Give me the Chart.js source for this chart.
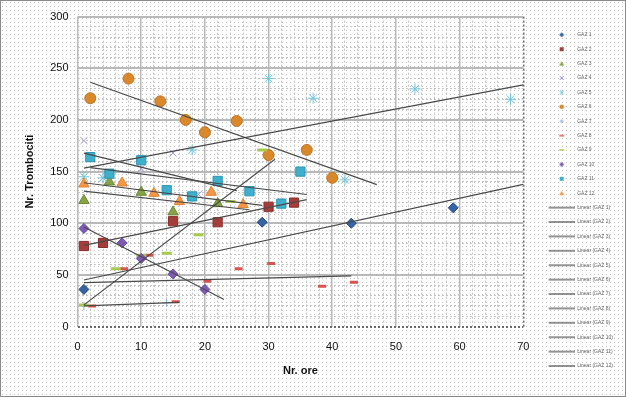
<!DOCTYPE html>
<html>
<head>
<meta charset="utf-8">
<script src="https://cdn.jsdelivr.net/npm/chart.js@4.4.0/dist/chart.umd.min.js"></script>
<style>
  html, body { margin: 0; padding: 0; background: #fff; }
  #wrap {
    width: 626px; height: 397px; box-sizing: border-box;
    border: 1px solid #8a8a8a;
    background-color: #fff;
  }
  canvas { display: block; }
</style>
</head>
<body>
<div id="wrap"><canvas id="chart" width="624" height="395"></canvas></div>
<script>
// hours (Nr. ore) and platelet counts (Nr. Trombociti) per patient series
const gaz1Hours = [1, 29, 43, 59];
const gaz1Platelets = [36, 101, 100, 115];
const gaz2Hours = [1, 4, 15, 22, 30, 34];
const gaz2Platelets = [78, 81, 102, 101, 116, 120];
const gaz3Hours = [1, 5, 10, 15, 22];
const gaz3Platelets = [122, 140, 130, 111, 119];
const gaz4Hours = [1, 4, 10, 15, 19];
const gaz4Platelets = [180, 144, 153, 168, 128];
const gaz5Hours = [1, 4, 18, 30, 37, 42, 53, 68];
const gaz5Platelets = [145, 144, 171, 240, 221, 142, 230, 220];
const gaz6Hours = [2, 8, 13, 17, 20, 25, 30, 36, 40];
const gaz6Platelets = [221, 240, 218, 200, 188, 199, 166, 171, 144];
const gaz7Hours = [1, 14];
const gaz7Platelets = [20, 23];
const gaz8Hours = [2.3, 7.3, 11.3, 15.4, 20.4, 25.3, 30.4, 38.4, 43.4];
const gaz8Platelets = [20, 56, 69, 24, 44, 56, 61, 39, 43];
const gaz9Hours = [1, 6, 10, 14, 19, 24, 29];
const gaz9Platelets = [21, 56, 69, 71, 89, 121, 171];
const gaz10Hours = [1, 7, 10, 15, 20];
const gaz10Platelets = [95, 81, 66, 51, 36];
const gaz11Hours = [2, 5, 10, 14, 18, 22, 27, 32, 35];
const gaz11Platelets = [164, 148, 161, 132, 126, 141, 131, 119, 150];
const gaz12Hours = [1, 7, 12, 16, 21, 26];
const gaz12Platelets = [138, 139, 129, 121, 130, 118];

const seriesNames = ['GAZ 1', 'GAZ 2', 'GAZ 3', 'GAZ 4', 'GAZ 5', 'GAZ 6',
                     'GAZ 7', 'GAZ 8', 'GAZ 9', 'GAZ 10', 'GAZ 11', 'GAZ 12'];
// x range covered by each linear trendline
const trendFrom = [1, 1, 1, 1, 1, 2, 1, 1, 1, 1, 2, 1];
const trendTo = [70, 36, 27, 25, 70, 47, 16, 43, 31, 23, 36, 29];

const xTicks = [0, 10, 20, 30, 40, 50, 60, 70];
const yTicks = [0, 50, 100, 150, 200, 250, 300];

const hours = [gaz1Hours, gaz2Hours, gaz3Hours, gaz4Hours, gaz5Hours, gaz6Hours,
               gaz7Hours, gaz8Hours, gaz9Hours, gaz10Hours, gaz11Hours, gaz12Hours];
const platelets = [gaz1Platelets, gaz2Platelets, gaz3Platelets, gaz4Platelets, gaz5Platelets, gaz6Platelets,
                   gaz7Platelets, gaz8Platelets, gaz9Platelets, gaz10Platelets, gaz11Platelets, gaz12Platelets];

const markers = [
  { style: 'rectRot', r: 5, fill: '#3563a3', line: '#254a80' },
  { style: 'rect', r: 6.5, fill: '#a53e3b', line: '#8a2e2c' },
  { style: 'triangle', r: 6, fill: '#86a446', line: '#6d8a35' },
  { style: 'crossRot', r: 5, fill: '#a493d4', line: '#a493d4' },
  { style: 'star', r: 5.5, fill: '#72c6dc', line: '#72c6dc' },
  { style: 'circle', r: 5.5, fill: '#d9882c', line: '#c27420' },
  { style: 'cross', r: 4, fill: '#86acd8', line: '#86acd8' },
  { style: 'line', r: 4, fill: '#d9534f', line: '#d9534f' },
  { style: 'line', r: 5, fill: '#a8c850', line: '#a8c850' },
  { style: 'rectRot', r: 5, fill: '#7d5bb6', line: '#6a4aa0' },
  { style: 'rect', r: 6.5, fill: '#3eb0cd', line: '#2a97b3' },
  { style: 'triangle', r: 6, fill: '#f79646', line: '#e58232' }
];

// dotted pattern fill of the chart background
(function () {
  const p = document.createElement('canvas');
  p.width = 4; p.height = 4;
  const g = p.getContext('2d');
  g.fillStyle = '#c2c2c2';
  g.fillRect(1, 1, 1, 1);
  document.getElementById('wrap').style.backgroundImage = 'url(' + p.toDataURL() + ')';
})();

function linearFit(xs, ys) {
  const n = xs.length;
  const mx = xs.reduce((s, v) => s + v, 0) / n;
  const my = ys.reduce((s, v) => s + v, 0) / n;
  let sxy = 0, sxx = 0;
  for (let i = 0; i < n; i++) {
    sxy += (xs[i] - mx) * (ys[i] - my);
    sxx += (xs[i] - mx) * (xs[i] - mx);
  }
  const slope = sxy / sxx;
  return { slope, intercept: my - slope * mx };
}

const pointSets = [];
const trendSets = [];
seriesNames.forEach((name, i) => {
  const m = markers[i];
  const dash = m.style === 'line';
  pointSets.push({
    label: name,
    data: hours[i].map((h, k) => ({ x: h, y: platelets[i][k] })),
    pointStyle: m.style,
    pointRadius: m.r,
    pointBackgroundColor: m.fill,
    pointBorderColor: dash ? m.fill : m.line,
    pointBorderWidth: dash ? 3 : 1,
    showLine: false,
    order: 30 - i
  });
  const fit = linearFit(hours[i], platelets[i]);
  trendSets.push({
    label: 'Linear (' + name + ')',
    data: [trendFrom[i], trendTo[i]].map(x => ({ x, y: fit.intercept + fit.slope * x })),
    showLine: true,
    borderColor: '#4a4a4a',
    borderWidth: 1.2,
    pointRadius: 0,
    order: 1
  });
});

// legend icons: 42px wide box, visible sample in the right 26px
const ICON_W = 42;
function legendIcon(kind, color) {
  const c = document.createElement('canvas');
  c.width = ICON_W; c.height = 8;
  const g = c.getContext('2d');
  const cx = ICON_W - 13, cy = 4;
  g.fillStyle = color; g.strokeStyle = color; g.lineWidth = 1;
  g.beginPath();
  switch (kind) {
    case 'trend':
      g.lineWidth = 1.2; g.moveTo(ICON_W - 26, cy); g.lineTo(ICON_W, cy); g.stroke(); break;
    case 'rectRot':
      g.moveTo(cx, cy - 2.5); g.lineTo(cx + 2.5, cy); g.lineTo(cx, cy + 2.5); g.lineTo(cx - 2.5, cy);
      g.closePath(); g.fill(); break;
    case 'rect':
      g.rect(cx - 2, cy - 2, 4, 4); g.fill(); break;
    case 'triangle':
      g.moveTo(cx, cy - 2.5); g.lineTo(cx + 2.5, cy + 2); g.lineTo(cx - 2.5, cy + 2); g.closePath(); g.fill(); break;
    case 'crossRot':
      g.moveTo(cx - 2, cy - 2); g.lineTo(cx + 2, cy + 2); g.moveTo(cx + 2, cy - 2); g.lineTo(cx - 2, cy + 2); g.stroke(); break;
    case 'star':
      g.moveTo(cx - 2, cy - 2); g.lineTo(cx + 2, cy + 2); g.moveTo(cx + 2, cy - 2); g.lineTo(cx - 2, cy + 2);
      g.moveTo(cx, cy - 2.5); g.lineTo(cx, cy + 2.5); g.stroke(); break;
    case 'circle':
      g.arc(cx, cy, 2.3, 0, Math.PI * 2); g.fill(); break;
    case 'cross':
      g.moveTo(cx - 2, cy); g.lineTo(cx + 2, cy); g.moveTo(cx, cy - 2); g.lineTo(cx, cy + 2); g.stroke(); break;
    case 'line':
      g.lineWidth = 1.5; g.moveTo(cx - 2.5, cy); g.lineTo(cx + 2.5, cy); g.stroke(); break;
  }
  return c;
}

const legendIcons = markers.map(m => legendIcon(m.style, m.fill))
  .concat(seriesNames.map(() => legendIcon('trend', '#4a4a4a')));

const isMajorY = v => v % 50 === 0;
const isMajorX = v => v % 10 === 0;
const font = 'Liberation Sans, Arial, sans-serif';

new Chart(document.getElementById('chart'), {
  type: 'scatter',
  data: { datasets: pointSets.concat(trendSets) },
  options: {
    responsive: false,
    animation: false,
    events: [],
    layout: { padding: { top: 15, left: 22, bottom: 18, right: 2 } },
    plugins: {
      tooltip: { enabled: false },
      legend: {
        position: 'right',
        // small empty title only nudges the item column down a little
        title: { display: true, text: ' ', font: { size: 4 }, padding: { top: 2, bottom: 0 } },
        labels: {
          usePointStyle: true,
          pointStyleWidth: ICON_W,
          padding: 9.4,
          color: '#404040',
          font: { family: font, size: 5 },
          generateLabels: chart => chart.data.datasets.map((ds, i) => ({
            text: ds.label,
            pointStyle: legendIcons[i],
            fillStyle: 'rgba(0,0,0,0)',
            strokeStyle: 'rgba(0,0,0,0)',
            lineWidth: 0,
            hidden: false,
            datasetIndex: i
          }))
        }
      }
    },
    scales: {
      x: {
        type: 'linear',
        min: 0, max: 70,
        afterBuildTicks: axis => { axis.ticks = Array.from({ length: 36 }, (_, k) => ({ value: k * 2 })); },
        ticks: {
          autoSkip: false,
          maxRotation: 0,
          padding: 14,
          color: '#111',
          font: { family: font, size: 11 },
          callback: v => (xTicks.includes(v) ? String(v) : '')
        },
        grid: {
          drawTicks: false,
          color: c => (isMajorX(c.tick.value) ? (c.tick.value === 70 ? '#6a6a6a' : '#b9b9b9') : '#c6c6c6'),
          lineWidth: c => (isMajorX(c.tick.value) ? 1.5 : 1)
        },
        border: {
          display: false,
          dash: c => (c.tick && (!isMajorX(c.tick.value) || c.tick.value === 70) ? [2, 2] : [])
        },
        title: {
          display: true,
          text: 'Nr. ore',
          color: '#111',
          padding: { top: -3, bottom: 0 },
          font: { family: font, size: 11, weight: 'bold' }
        }
      },
      y: {
        type: 'linear',
        min: 0, max: 300,
        afterBuildTicks: axis => { axis.ticks = Array.from({ length: 31 }, (_, k) => ({ value: k * 10 })); },
        ticks: {
          autoSkip: false,
          padding: 9,
          color: '#111',
          font: { family: font, size: 11 },
          callback: v => (yTicks.includes(v) ? String(v) : '')
        },
        grid: {
          drawTicks: false,
          color: c => (isMajorY(c.tick.value) ? (c.tick.value === 0 ? '#6a6a6a' : '#b9b9b9') : '#c6c6c6'),
          lineWidth: c => (isMajorY(c.tick.value) ? 2 : 1)
        },
        border: {
          display: false,
          dash: c => (c.tick && (!isMajorY(c.tick.value) || c.tick.value === 0) ? [2, 2] : [])
        },
        title: {
          display: true,
          text: 'Nr. Trombociti',
          color: '#111',
          padding: { top: 0, bottom: 5 },
          font: { family: font, size: 11, weight: 'bold' }
        }
      }
    }
  }
});
</script>
</body>
</html>
